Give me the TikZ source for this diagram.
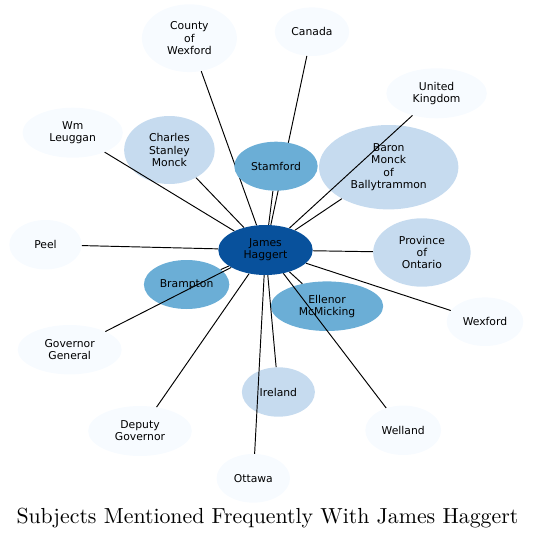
\documentclass[tikz,border=0pt]{standalone}
\usepackage{fontspec}
\newfontfamily\labelfont{DejaVu Sans}
\newfontfamily\titlefont{lmroman10-regular}[Extension=.otf]
\usepackage{tikz}
\usetikzlibrary{shapes.geometric}
\definecolor{blueA}{HTML}{F7FBFF}
\definecolor{blueB}{HTML}{C6DBEF}
\definecolor{blueC}{HTML}{6BAED6}
\definecolor{blueD}{HTML}{08519C}
\pgfdeclarelayer{front}
\pgfsetlayers{main,front}

\begin{document}
\begin{tikzpicture}[x=1pt, y=-1pt,
  subj/.style={ellipse, inner sep=0pt, align=center,
    font={\labelfont\fontsize{10.8}{12.2}\selectfont}},
  oval/.style 2 args={minimum width=#1pt, minimum height=#2pt},
  link/.style={line width=0.95pt}]
  \useasboundingbox (0,0) rectangle (533,538);
  % --- outer ring ---
  \node[subj, fill=blueA, oval={95}{67.8}] (county) at (189.4,38.2) {County\\of\\Wexford};
  \node[subj, fill=blueA, oval={74.4}{48.6}] (canada) at (312,31.7) {Canada};
  \node[subj, fill=blueA, oval={100.5}{50}] (uk) at (436.6,93.3) {United\\Kingdom};
  \node[subj, fill=blueA, oval={100.3}{50}] (leuggan) at (72.7,132.7) {Wm\\Leuggan};
  \node[subj, fill=blueA, oval={72.4}{49.4}] (peel) at (45.5,244.7) {Peel};
  \node[subj, fill=blueA, oval={76.6}{48.6}] (wexford) at (485,321.7) {Wexford};
  \node[subj, fill=blueA, oval={104}{49.4}] (govgen) at (69.7,349.7) {Governor\\General};
  \node[subj, fill=blueA, oval={103.7}{50}] (deputy) at (140,431) {Deputy\\Governor};
  \node[subj, fill=blueA, oval={75.8}{49.4}] (welland) at (403.2,430.3) {Welland};
  \node[subj, fill=blueA, oval={73.4}{48.7}] (ottawa) at (253.3,478.3) {Ottawa};
  % --- inner ring ---
  \node[subj, fill=blueB, oval={90.5}{68}] (charles) at (169.4,150) {Charles\\Stanley\\Monck};
  \node[subj, fill=blueB, oval={139.4}{84.4}] (baron) at (388.7,167.2) {Baron\\Monck\\of\\Ballytrammon};
  \node[subj, fill=blueB, oval={97.5}{68.4}] (ontario) at (421.9,252.5) {Province\\of\\Ontario};
  \node[subj, fill=blueB, oval={73}{49.4}] (ireland) at (278.4,392) {Ireland};
  \node[subj, fill=blueC, oval={85.4}{49}] (brampton) at (186.6,284.5) {Brampton};
  \node[subj, fill=blueC, oval={112.4}{49.6}] (ellenor) at (327,306.2) {Ellenor\\McMicking};
  % --- drawn over the links ---
  \begin{pgfonlayer}{front}
    \node[subj, fill=blueC, oval={83.4}{49}] (stamford) at (276,166.2) {Stamford};
    \node[subj, fill=blueD, oval={94.4}{50}] (james) at (265.5,250) {James\\Haggert};
  \end{pgfonlayer}
  % --- links ---
  \draw[link] (james) -- (county);
  \draw[link] (james) -- (canada);
  \draw[link] (james) -- (uk);
  \draw[link] (james) -- (leuggan);
  \draw[link] (james) -- (peel);
  \draw[link] (james) -- (wexford);
  \draw[link] (james) -- (govgen);
  \draw[link] (james) -- (deputy);
  \draw[link] (james) -- (welland);
  \draw[link] (james) -- (ottawa);
  \draw[link] (james) -- (charles);
  \draw[link] (james) -- (baron);
  \draw[link] (james) -- (ontario);
  \draw[link] (james) -- (ireland);
  \draw[link] (james) -- (brampton);
  \draw[link] (james) -- (ellenor);
  \draw[link] (james) -- (stamford);
  % --- title ---
  \node[anchor=base, inner sep=0pt, font={\titlefont\fontsize{21.8}{26}\selectfont}]
    (title) at (267.4,523) {Subjects Mentioned Frequently With James Haggert};
\end{tikzpicture}
\end{document}
